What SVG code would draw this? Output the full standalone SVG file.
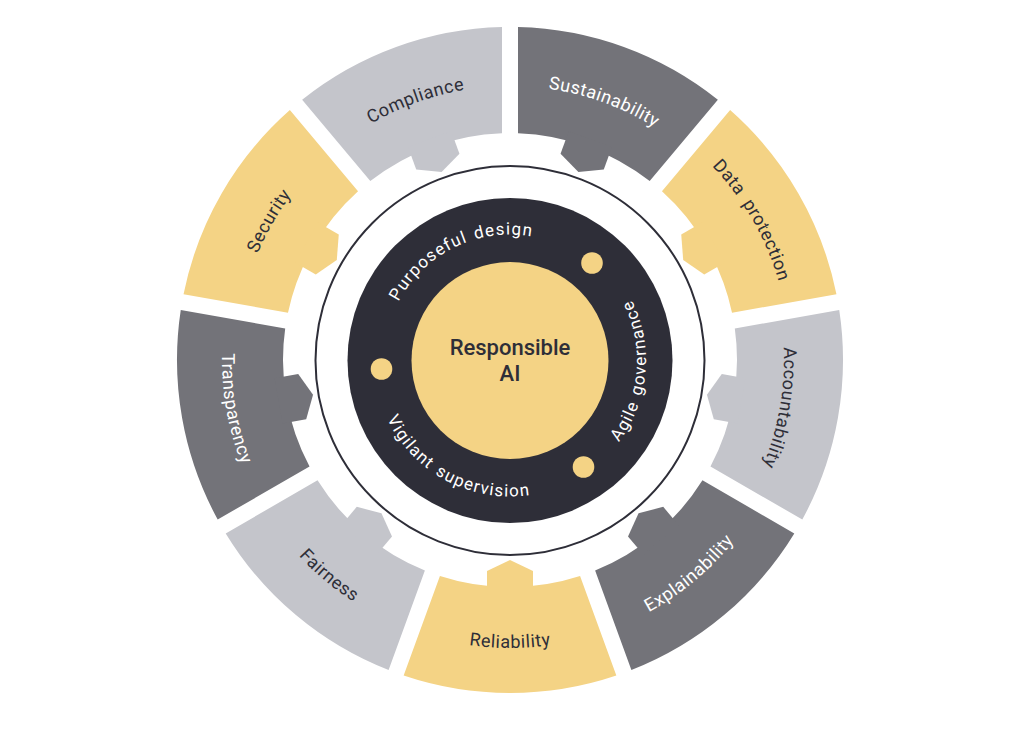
<svg xmlns="http://www.w3.org/2000/svg" width="1024" height="730" viewBox="0 0 1024 730">
  <style>
    .light { fill: #C4C5CB; }
    .dark { fill: #737379; }
    .yellow { fill: #F4D385; }
    .lbl { font-family: Roboto, "Open Sans", "Liberation Sans", sans-serif; font-size: 18px; letter-spacing: 0.5px; text-anchor: middle; }
    .dk { fill: #2E2E38; }
    .wt { fill: #FFFFFF; }
    .inner { font-family: Roboto, "Open Sans", "Liberation Sans", sans-serif; font-size: 17px; letter-spacing: 1.2px; word-spacing: 2px; fill: #FFFFFF; text-anchor: middle; }
    .center { font-family: Roboto, "Open Sans", "Liberation Sans", sans-serif; font-size: 22px; font-weight: 500; fill: #2E2E38; text-anchor: middle; }
  </style>
  <defs>
    <g id="seg">
      <path d="M -106.34,-315.57 A 333 333 0 0 1 106.34,-315.57 L 70.07,-215.92 A 227 227 0 0 0 -70.07,-215.92 Z"/>
      <polygon points="-23,-235 -23,-211 0,-200 23,-211 23,-235"/>
    </g>
    <path id="arcOut" d="M -176.12,-209.90 A 274 274 0 0 1 176.12,-209.90"/>
    <path id="arcOut2" d="M -179.98,-214.49 A 280 280 0 0 1 179.98,-214.49"/>
    <path id="arcIn" d="M -185.12,220.62 A 288 288 0 0 0 185.12,220.62"/>
    <path id="arcPd" d="M -96.52,-80.99 A 126 126 0 0 1 96.52,-80.99"/>
    <path id="arcIv" d="M -104.18,87.42 A 136 136 0 0 0 104.18,87.42"/>
  </defs>

  <g id="connectors"/>

  <g id="compliance">
    <use href="#seg" class="light" transform="translate(510 360) rotate(-20)"/>
    <text class="lbl dk" transform="translate(510 360) rotate(-20)"><textPath href="#arcOut" startOffset="50%">Compliance</textPath></text>
  </g>
  <g id="sustainability">
    <use href="#seg" class="dark" transform="translate(510 360) rotate(20)"/>
    <text class="lbl wt" transform="translate(510 360) rotate(20)"><textPath href="#arcOut" startOffset="50%">Sustainability</textPath></text>
  </g>
  <g id="data-protection">
    <use href="#seg" class="yellow" transform="translate(510 360) rotate(60)"/>
    <text class="lbl dk" transform="translate(510 360) rotate(60)" word-spacing="4"><textPath href="#arcOut2" startOffset="50%">Data protection</textPath></text>
  </g>
  <g id="accountability">
    <use href="#seg" class="light" transform="translate(510 360) rotate(100)"/>
    <text class="lbl dk" transform="translate(510 360) rotate(100)"><textPath href="#arcOut" startOffset="50%">Accountability</textPath></text>
  </g>
  <g id="explainability">
    <use href="#seg" class="dark" transform="translate(510 360) rotate(140)"/>
    <text class="lbl wt" transform="translate(510 360) rotate(-40)"><textPath href="#arcIn" startOffset="50%">Explainability</textPath></text>
  </g>
  <g id="reliability">
    <use href="#seg" class="yellow" transform="translate(510 360) rotate(180)"/>
    <text class="lbl dk" transform="translate(510 360) rotate(0)"><textPath href="#arcIn" startOffset="50%">Reliability</textPath></text>
  </g>
  <g id="fairness">
    <use href="#seg" class="light" transform="translate(510 360) rotate(220)"/>
    <text class="lbl dk" transform="translate(510 360) rotate(40)"><textPath href="#arcIn" startOffset="50%">Fairness</textPath></text>
  </g>
  <g id="transparency">
    <use href="#seg" class="dark" transform="translate(510 360) rotate(260)"/>
    <text class="lbl wt" transform="translate(510 360) rotate(80)"><textPath href="#arcIn" startOffset="50%">Transparency</textPath></text>
  </g>
  <g id="security">
    <use href="#seg" class="yellow" transform="translate(510 360) rotate(300)"/>
    <text class="lbl dk" transform="translate(510 360) rotate(-60)"><textPath href="#arcOut" startOffset="50%">Security</textPath></text>
  </g>

  <g id="ring">
    <circle cx="510" cy="360.5" r="194.5" fill="none" stroke="#2E2E38" stroke-width="2"/>
  </g>

  <g id="core-ring">
    <circle cx="510" cy="360.5" r="162.5" fill="#2E2E38"/>
    <circle cx="592" cy="263" r="10.8" fill="#F4D385"/>
    <circle cx="381.5" cy="369" r="10.8" fill="#F4D385"/>
    <circle cx="583.5" cy="467" r="10.8" fill="#F4D385"/>
    <text class="inner" transform="translate(510 360.5) rotate(-26)"><textPath href="#arcPd" startOffset="50%">Purposeful design</textPath></text>
    <text class="inner" transform="translate(510 360.5) rotate(-85)"><textPath href="#arcIv" startOffset="50%">Agile governance</textPath></text>
    <text class="inner" transform="translate(510 360.5) rotate(28)"><textPath href="#arcIv" startOffset="50%">Vigilant supervision</textPath></text>
  </g>

  <g id="responsible-ai">
    <circle cx="510" cy="360.5" r="98.5" fill="#F4D385"/>
    <text class="center" x="510" y="355">Responsible</text>
    <text class="center" x="510" y="381">AI</text>
  </g>
</svg>
